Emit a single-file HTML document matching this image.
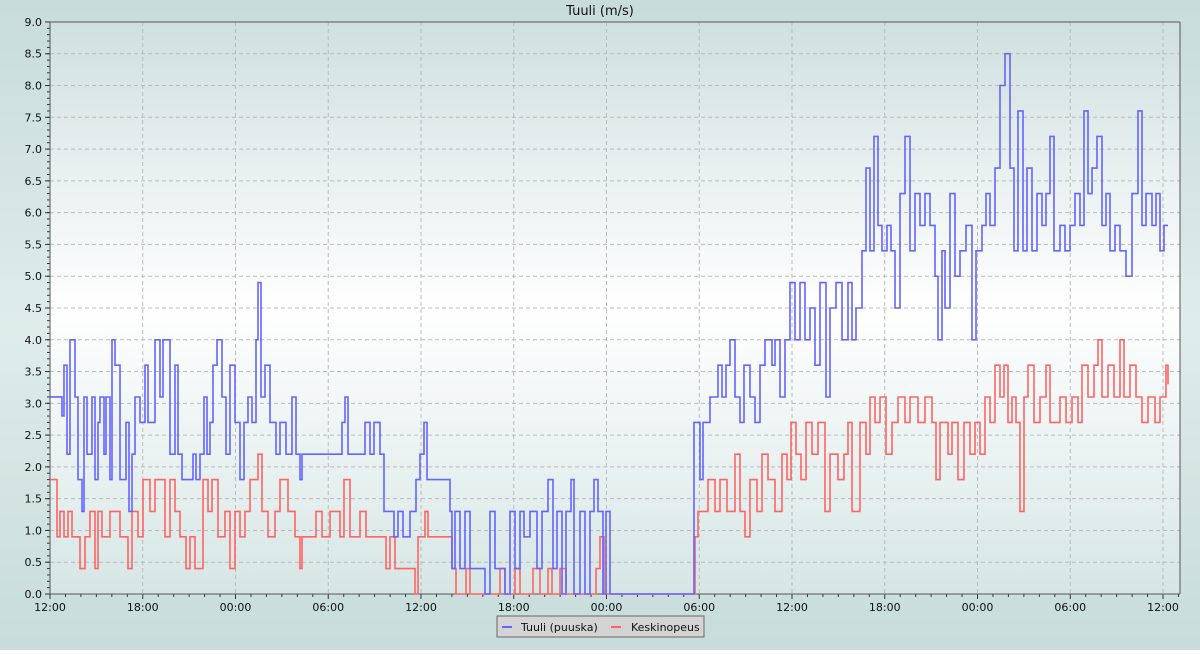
<!DOCTYPE html>
<html><head><meta charset="utf-8"><style>
body{margin:0;width:1200px;height:650px;overflow:hidden;font-family:"DejaVu Sans","Liberation Sans",sans-serif;}
</style></head><body>
<svg id="s" width="1200" height="650" xmlns="http://www.w3.org/2000/svg" font-family="DejaVu Sans, Liberation Sans, sans-serif">
<defs>
<linearGradient id="bg" x1="0" y1="0" x2="0" y2="1"><stop offset="0" stop-color="#c7dcdb"/><stop offset="0.5" stop-color="#dfeceb"/><stop offset="1" stop-color="#c7dcdb"/></linearGradient>
<linearGradient id="pg" x1="0" y1="0" x2="0" y2="1"><stop offset="0" stop-color="#cfe0df"/><stop offset="0.5" stop-color="#ffffff"/><stop offset="1" stop-color="#d6e6e5"/></linearGradient>
</defs>
<rect width="1200" height="650" fill="url(#bg)"/>
<rect x="50" y="22" width="1130" height="572" fill="url(#pg)"/>
<text x="600" y="15" font-size="13" text-anchor="middle" fill="#111">Tuuli (m/s)</text>
<g id="grid"></g>
<g id="data"></g>
<rect x="497" y="616" width="207" height="21" fill="#d4d4d4" stroke="#666"/>
<line x1="502" y1="627" x2="512" y2="627" stroke="#6464ff" stroke-width="2"/>
<text x="521" y="631" font-size="11" fill="#111">Tuuli (puuska)</text>
<line x1="611" y1="627" x2="621" y2="627" stroke="#ff6464" stroke-width="2"/>
<text x="631" y="631" font-size="11" fill="#111">Keskinopeus</text>
</svg>
<script>
var NS="http://www.w3.org/2000/svg";
function el(p,t,a){var e=document.createElementNS(NS,t);for(var k in a)e.setAttribute(k,a[k]);p.appendChild(e);return e;}
var g=document.getElementById("grid"),d=document.getElementById("data");
function Y(v){return 594-v*63.56;}
for(var i=0;i<=18;i++){var y=Y(i*0.5);
 if(i>0)el(g,"line",{x1:50,x2:1180,y1:y,y2:y,stroke:"#bbb","stroke-dasharray":"4,3"});
 el(g,"line",{x1:45,x2:50,y1:y,y2:y,stroke:"#333"});
 var t=el(g,"text",{x:42,y:y+4,"font-size":"11","text-anchor":"end",fill:"#111"});t.textContent=(i*0.5).toFixed(1);}
for(var i=0;i<90;i++){var y=Y(i*0.1);el(g,"line",{x1:47,x2:50,y1:y,y2:y,stroke:"#333"});}
var labs=["12:00","18:00","00:00","06:00"];
for(var h=0;h<=73;h++){var x=50+h*92.75/6;if(x>1180)break;
 el(g,"line",{x1:x,x2:x,y1:594,y2:h%6==0?599:597,stroke:"#333"});
 if(h%6==0){ if(h>0)el(g,"line",{x1:x,x2:x,y1:22,y2:594,stroke:"#bbb","stroke-dasharray":"4,3"});
  var t=el(g,"text",{x:x,y:611,"font-size":"11","text-anchor":"middle",fill:"#111"});t.textContent=labs[(h/6)%4];}}
el(g,"line",{x1:50,x2:1180,y1:22,y2:22,stroke:"#555"});
el(g,"line",{x1:50,x2:1180,y1:594,y2:594,stroke:"#555"});
el(g,"line",{x1:50,x2:50,y1:22,y2:594,stroke:"#555"});
el(g,"line",{x1:1180,x2:1180,y1:22,y2:594,stroke:"#555"});
function step(a,col){var s="M"+a[0]+","+Y(a[1]);for(var i=2;i<a.length;i+=2){s+=" H"+a[i]+" V"+Y(a[i+1]).toFixed(1);}
 el(d,"path",{d:s,fill:"none",stroke:col,"stroke-width":"1.6"});}
var B=[50,3.1,62,2.8,64,3.6,67,2.2,70,4.0,75,3.1,78,1.8,82,1.3,84,3.1,87,2.2,92,3.1,95,1.8,98,2.7,100,3.1,104,2.2,106,3.1,110,1.8,112,4.0,115,3.6,120,1.8,126,2.7,129,1.3,132,2.2,135,3.1,140,2.7,145,3.6,148,2.7,155,4.0,160,3.1,163,4.0,170,2.2,175,3.6,178,2.2,182,1.8,193,2.2,196,1.8,200,2.2,204,3.1,207,2.2,210,2.7,213,3.6,217,4.0,222,3.1,226,2.2,230,3.6,235,2.7,240,1.8,244,2.7,248,3.1,252,2.7,256,4.0,258,4.9,261,3.1,265,3.6,270,2.7,276,2.2,280,2.7,286,2.2,292,3.1,296,2.2,300,1.8,302,2.2,320,2.2,330,2.2,342,2.7,345,3.1,348,2.2,365,2.7,370,2.2,374,2.7,380,2.2,384,1.3,394,0.9,398,1.3,403,0.9,410,1.3,416,1.8,420,2.2,424,2.7,427,1.8,450,1.3,452,0.4,455,1.3,460,0.4,465,1.3,470,0.4,475,0.4,485,0.0,490,1.3,495,0.4,505,0.0,510,1.3,515,0.4,520,1.3,524,0.9,530,1.3,537,0.4,542,1.3,548,1.8,553,0.4,557,1.3,562,0.0,566,1.3,571,1.8,574,0.0,580,1.3,585,0.0,590,1.3,594,1.8,598,1.3,603,0.0,606,1.3,610,0.0,693,0.0,694,2.7,700,1.8,703,2.7,710,3.1,718,3.6,722,3.1,726,3.6,730,4.0,735,3.1,740,2.7,744,3.6,750,3.1,755,2.7,760,3.6,765,4.0,772,3.6,775,4.0,780,3.1,785,4.0,790,4.9,795,4.0,800,4.9,805,4.0,810,4.5,815,3.6,820,4.9,826,3.1,830,4.5,836,4.9,842,4.0,848,4.9,852,4.0,856,4.5,862,5.4,866,6.7,870,5.4,874,7.2,878,5.8,882,5.4,887,5.8,891,5.4,895,4.5,900,6.3,905,7.2,910,5.4,915,6.3,920,5.8,925,6.3,930,5.8,935,5.0,938,4.0,942,5.4,945,4.5,950,6.3,955,5.0,960,5.4,966,5.8,972,4.0,976,5.4,982,5.8,986,6.3,990,5.8,995,6.7,1000,8.0,1005,8.5,1010,6.7,1014,5.4,1018,7.6,1023,5.4,1027,6.7,1032,5.4,1037,6.3,1042,5.8,1046,6.3,1050,7.2,1054,5.4,1060,5.8,1065,5.4,1070,5.8,1075,6.3,1080,5.8,1084,7.6,1088,6.3,1092,6.7,1097,7.2,1102,5.8,1106,6.3,1110,5.4,1115,5.8,1120,5.4,1126,5.0,1132,6.3,1138,7.6,1142,5.8,1146,6.3,1152,5.8,1156,6.3,1160,5.4,1164,5.8,1168,5.8];
var R=[50,1.8,57,0.9,60,1.3,64,0.9,68,1.3,72,0.9,80,0.4,85,0.9,90,1.3,95,0.4,98,1.3,102,0.9,110,1.3,120,0.9,128,0.4,132,1.3,138,0.9,143,1.8,150,1.3,155,1.8,165,0.9,170,1.8,175,1.3,180,0.9,186,0.4,190,0.9,195,0.4,203,1.8,208,1.3,212,1.8,218,0.9,225,1.3,230,0.4,235,1.3,240,0.9,245,1.3,250,1.8,258,2.2,262,1.3,268,0.9,275,1.3,280,1.8,288,1.3,295,0.9,300,0.4,302,0.9,316,1.3,322,0.9,330,1.3,340,0.9,344,1.8,350,0.9,360,1.3,366,0.9,380,0.9,386,0.4,390,0.9,395,0.4,410,0.4,415,0.0,418,0.9,425,1.3,428,0.9,450,0.9,452,0.4,456,0.0,466,0.4,470,0.0,500,0.4,505,0.0,515,0.4,520,0.0,533,0.4,540,0.0,548,0.4,552,0.0,560,0.4,566,0.0,596,0.4,600,0.9,604,0.0,693,0.0,695,0.9,698,1.3,708,1.8,715,1.3,720,1.8,727,1.3,735,2.2,740,1.3,745,0.9,750,1.8,757,1.3,762,2.2,768,1.8,775,1.3,782,2.2,787,1.8,791,2.7,796,2.2,801,1.8,806,2.7,812,2.2,818,2.7,825,1.3,830,2.2,838,1.8,844,2.2,848,2.7,852,1.3,860,2.7,866,2.2,870,3.1,875,2.7,880,3.1,886,2.2,892,2.7,898,3.1,905,2.7,910,3.1,918,2.7,925,3.1,932,2.7,936,1.8,940,2.7,948,2.2,952,2.7,958,1.8,964,2.7,970,2.2,975,2.7,980,2.2,985,3.1,990,2.7,995,3.6,1000,3.1,1004,3.6,1008,2.7,1012,3.1,1016,2.7,1020,1.3,1024,3.1,1028,3.6,1034,2.7,1040,3.1,1046,3.6,1050,2.7,1060,3.1,1066,2.7,1072,3.1,1078,2.7,1082,3.6,1088,3.1,1094,3.6,1098,4.0,1102,3.1,1108,3.6,1114,3.1,1120,4.0,1124,3.1,1130,3.6,1136,3.1,1142,2.7,1148,3.1,1155,2.7,1160,3.1,1166,3.6,1168,3.3];
step(R,"#ff6464");step(B,"#6464ff");
</script>
</body></html>
